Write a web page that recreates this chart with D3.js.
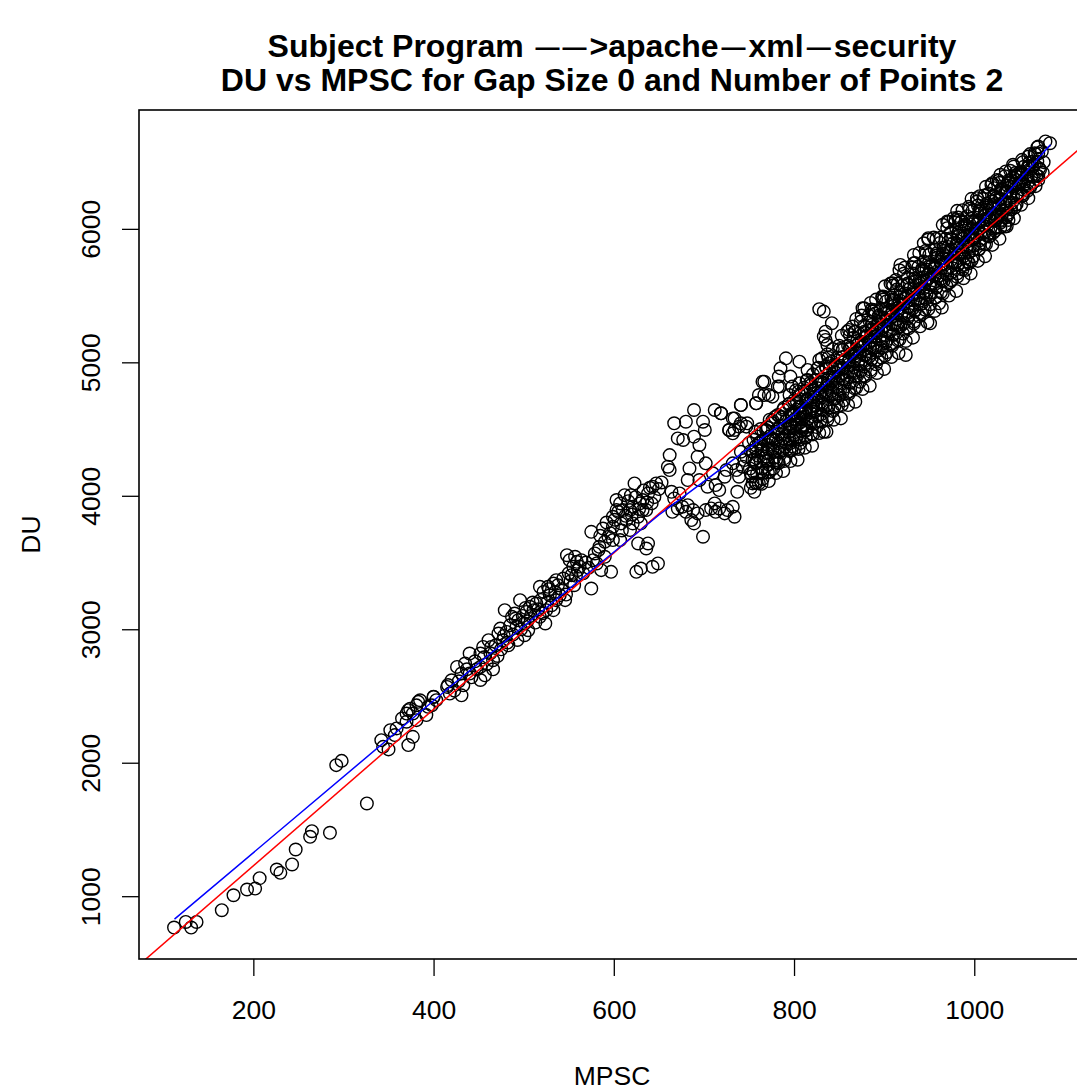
<!DOCTYPE html>
<html>
<head>
<meta charset="utf-8">
<script src="https://cdn.jsdelivr.net/npm/d3@7"></script>
<style>
  body { margin: 0; background: #ffffff; }
  text { font-family: "Liberation Sans", Arial, Helvetica, sans-serif; fill: #000; }
</style>
</head>
<body>
<svg id="chart" width="1077" height="1090"></svg>
<script>
// ---- data: [MPSC, DU] observations ----
const lowTail = [
  [112,765],[125,807],[131,765],[137,807],[165,895],[178,1007],[193,1050],[202,1057],
  [207,1135],[226,1200],[230,1175],[243,1238],[247,1350],[263,1445],[265,1487],[285,1475],
  [326,1695],[292,1982],[298,2014]
];
const lowCluster = [
  [342,2169],[344,2119],[350,2100],[352,2244],[359,2257],[357,2207],[365,2332],[372,2394],
  [377,2194],[372,2132],[383,2456],[377,2369],[381,2319],[370,2307],[392,2357],[394,2419],
  [400,2494],[403,2469],[416,2582],[370,2368],[381,2430],[374,2405],[385,2468],[398,2430]
];
const midBand = [
  [400,2493],[415,2568],[420,2618],[418,2518],[431,2505],[426,2718],[435,2743],[440,2818],
  [431,2668],[440,2668],[452,2718],[457,2655],[455,2868],[461,2918],[464,2868],[452,2818],
  [466,2768],[472,2968],[474,3005],[477,2918],[481,2980],[483,2880],[479,3143],[487,3093],
  [490,3118],[494,3068],[496,3218],[492,3018],[501,3043],[503,3130],[507,3168],[511,3143],
  [514,3193],[501,2955],[505,2993],[518,3093],[524,3043],[525,3143],[533,3143],[536,3218],
  [518,3318],[522,3280],[527,3318],[533,3343],[536,3368],[529,3255],[540,3255],[546,3218],
  [548,3555],[551,3518],[555,3468],[557,3543],[559,3505],[560,3443],[564,3518],[553,3405],
  [575,3305],[577,3518],[579,3568],[583,3593],[581,3493],[584,3618],[590,3543],[586,3443],
  [597,3430],[590,3655],[594,3693],[575,3730],[588,3755],[599,3768],[599,3843],[603,3893],
  [607,3943],[612,4005],[619,4005],[623,4093],[632,3968],[638,4018],[643,4068],[647,4093],
  [627,3843],[632,3893],[621,3918],[614,3818],[608,3793],[621,3793],[630,3793],[618,3743],
  [599,3668],[607,3668],[627,3643],[636,3605],[638,3643],[625,3430],[630,3455],[643,3468],
  [649,3493],[603,3968],[610,3893],[618,3893],[636,3893],[642,3943],[629,3943]
];
const midFill = [
  [423,2540],[428,2610],[433,2580],[437,2700],[442,2640],[446,2760],[448,2700],[452,2620],
  [456,2790],[459,2740],[463,2820],[466,2700],[469,2880],[471,2800],[475,2850],[478,2950],
  [482,2900],[485,3030],[488,2960],[491,3080],[493,2920],[497,3000],[499,3100],[502,3160],
  [504,3060],[508,3100],[510,3200],[513,3050],[516,3150],[519,3220],[521,3120],[526,3200],
  [528,3300],[531,3180],[535,3280],[538,3330],[542,3300],[544,3380],[547,3260],[550,3420],
  [552,3360],[556,3330],[558,3400],[562,3470],[566,3420],[569,3500],[572,3460],
  [585,3700],[592,3800],[596,3720],[601,3820],[605,3880],[609,3740],[613,3850],[616,3960],
  [620,3860],[624,3990],[628,3900],[633,4040],[637,3950],[640,4060],[645,3990],[650,4050],
  [653,4100]
];
const upperSpread = [
  [664,4030],[667,3980],[673,4018],[671,3905],[665,3880],[676,3918],[682,3930],[680,3880],
  [688,3893],[686,3818],[689,3793],[699,3693],[693,3868],[702,3893],[708,3905],[712,3943],
  [713,3880],[717,3905],[723,3868],[726,3893],[732,3918],[734,3843],[662,4305],[660,4218],
  [662,4193],[667,4543],[671,4430],[677,4418],[680,4555],[689,4643],[689,4443],[695,4380],
  [699,4555],[701,4493],[693,4293],[702,4243],[712,4643],[719,4618],[732,4580],[728,4493],
  [734,4493],[741,4680],[741,4543],[747,4518],[758,4693],[761,4755],[767,4855],[772,4755],
  [784,4818],[795,4755],[798,4818],[806,4843],[684,4205],[682,4118],[695,4118],[704,4068],
  [710,4168],[713,4080],[717,4043],[725,4193],[723,4143],[732,4243],[736,4193],[739,4143],
  [743,4218],[747,4293],[752,4168],[754,4093],[761,4093],[737,4030],[745,4268],[741,4330],
  [754,4330],[758,4243],[765,4205],[769,4293],[776,4343],[784,4368],[791,4393],[798,4418],
  [806,4443],[813,4493],[780,4268],[772,4418],[787,4468],[795,4543],[802,4568],[809,4618],
  [761,4393],[769,4493],[776,4543],[784,4593]
];
const outliers = [
  [828,5398],[833,5380],[842,5293],[835,5230],[835,5168],[833,5193],[837,5130],[791,5030],
  [806,5005],[785,4955],[783,4893],[796,4893],[815,4943],[815,4868],[765,4855],[767,4755],
  [776,4743],[758,4693],[741,4680],[782,4818],[719,4618],[734,4580],[748,4543],[728,4493],
  [739,4518],[732,4468],[828,5018],[831,5030],[839,4993],[854,5093],[861,5243],[868,5230],
  [876,5405],[887,5380],[898,5493],[909,5593],[865,5268],[879,5193],[890,5193],[894,5293],
  [901,5368],[909,5443],[833,4480],
  [918,5730],[913,5617],[900,5492],[878,5405],[889,5392],[924,5055],[951,5292],[961,5442],
  [979,6067],[1034,6030],[1016,5942],[1038,6067],[933,5742],[944,5892],[949,5930],[970,6055],
  [977,6080],[994,5742],[990,5692],
  [1079,6655],[1084,6642],[1071,6617],[1067,6567],[1060,6542],[1053,6517],[1044,6467],
  [1073,6442],[1071,6367],[1025,6367],[1020,6342],[1034,6017],[1029,6067],[1003,6205],[983,6067]
];
const denseBand = [
  [752,4060],[753,4145],[751,4205],[754,4270],[752,4335],[750,4395],
  [758,4095],[759,4165],[757,4245],[760,4300],[758,4375],[759,4445],
  [765,4125],[764,4205],[766,4280],[765,4350],[763,4405],[766,4485],
  [771,4175],[772,4235],[770,4320],[771,4380],[773,4445],[770,4515],
  [777,4205],[778,4285],[776,4355],[777,4425],[779,4480],[776,4565],
  [783,4245],[784,4325],[782,4395],[783,4465],[785,4525],[782,4605],
  [789,4280],[790,4365],[788,4425],[789,4505],[791,4560],[788,4645],
  [795,4335],[796,4395],[794,4475],[795,4535],[797,4615],[794,4685],
  [801,4355],[802,4435],[800,4515],[801,4575],[803,4645],[800,4715],[802,4790],
  [807,4395],[808,4485],[806,4545],[807,4615],[809,4675],[806,4755],
  [813,4435],[814,4515],[812,4595],[813,4655],[815,4725],[812,4785],[814,4865],
  [819,4465],[820,4565],[818,4625],[819,4705],[821,4765],[818,4845],
  [825,4515],[826,4595],[824,4675],[825,4735],[827,4805],[824,4865],[826,4955],
  [831,4555],[832,4645],[830,4705],[831,4785],[833,4845],[830,4925],
  [837,4595],[838,4675],[836,4755],[837,4815],[839,4885],[836,4955],[838,5035],
  [843,4635],[844,4725],[842,4785],[843,4865],[845,4925],[842,5005],
  [849,4675],[850,4755],[848,4845],[849,4895],[851,4975],[848,5035],[850,5125],
  [855,4715],[856,4815],[854,4875],[855,4955],[857,5015],[854,5095],
  [861,4765],[862,4845],[860,4925],[861,4985],[863,5065],[860,5125],[862,5205],
  [867,4805],[868,4895],[866,4965],[867,5045],[869,5095],[866,5185],
  [873,4855],[874,4935],[872,5015],[873,5075],[875,5155],[872,5215],[874,5305],
  [879,4895],[880,4995],[878,5055],[879,5135],[881,5195],[878,5275],
  [885,4945],[886,5025],[884,5105],[885,5165],[887,5245],[884,5305],[886,5395],
  [891,4985],[892,5085],[890,5145],[891,5225],[893,5285],[890,5365],
  [897,5035],[898,5115],[896,5195],[897,5255],[899,5335],[896,5395],[898,5485],
  [903,5075],[904,5175],[902,5235],[903,5315],[905,5375],[902,5455],
  [909,5125],[910,5205],[908,5285],[909,5345],[911,5425],[908,5485],[910,5575],
  [915,5165],[916,5265],[914,5325],[915,5405],[917,5465],[914,5545],
  [921,5215],[922,5295],[920,5375],[921,5435],[923,5515],[920,5575],[922,5665],
  [927,5255],[928,5355],[926,5415],[927,5495],[929,5555],[926,5635],
  [933,5305],[934,5385],[932,5465],[933,5525],[935,5605],[932,5665],[934,5745],
  [939,5345],[940,5435],[938,5505],[939,5575],[941,5635],[938,5715],
  [945,5395],[946,5475],[944,5555],[945,5615],[947,5695],[944,5755],[946,5835],
  [951,5435],[952,5525],[950,5585],[951,5665],[953,5725],[950,5805],
  [957,5485],[958,5565],[956,5645],[957,5705],[959,5785],[956,5845],[958,5925],
  [963,5525],[964,5615],[962,5675],[963,5755],[965,5815],[962,5895],
  [969,5575],[970,5655],[968,5735],[969,5795],[971,5865],[968,5925],[970,6005],
  [975,5615],[976,5705],[974,5765],[975,5845],[977,5895],[974,5975],
  [981,5665],[982,5735],[980,5815],[981,5875],[983,5945],[980,6005],[982,6085],
  [987,5695],[988,5795],[986,5845],[987,5925],[989,5985],[986,6055],
  [993,5755],[994,5825],[992,5905],[993,5955],[995,6035],[992,6095],[994,6165],
  [999,5795],[1000,5875],[998,5935],[999,6005],[1001,6055],[998,6135],
  [1005,5845],[1006,5915],[1004,5995],[1005,6045],[1007,6115],[1004,6175],[1006,6245],
  [1011,5885],[1012,5975],[1010,6025],[1011,6095],[1013,6145],[1010,6225],
  [1017,5945],[1018,6005],[1016,6085],[1017,6135],[1019,6205],[1016,6265],
  [1023,5985],[1024,6065],[1022,6115],[1023,6185],[1025,6235],[1022,6305],
  [1029,6045],[1030,6105],[1028,6175],[1029,6225],[1031,6295],[1028,6345],
  [1035,6085],[1036,6155],[1034,6205],[1035,6275],[1037,6325],[1034,6395],
  [1041,6145],[1042,6195],[1040,6265],[1041,6315],[1043,6385],[1040,6435],
  [1047,6185],[1048,6255],[1046,6305],[1047,6365],[1049,6415],
  [1053,6245],[1054,6295],[1052,6355],[1053,6405],[1055,6465],
  [1059,6285],[1060,6355],[1058,6395],[1059,6455],[1061,6495],
  [1065,6345],[1066,6395],[1064,6455],[1065,6505],
  [1071,6395],[1072,6455],[1070,6505],[1071,6565]
];
const denseFill = [
  [756,4030],[757,4100],[755,4180],[756,4270],[758,4350],[755,4420],[757,4480],
  [764,4090],[765,4170],[763,4260],[764,4340],[766,4420],[763,4500],
  [772,4110],[773,4180],[771,4260],[772,4350],[774,4430],[771,4510],[773,4570],
  [780,4170],[781,4250],[779,4330],[780,4420],[782,4500],[779,4590],
  [788,4185],[789,4260],[787,4340],[788,4430],[790,4510],[787,4590],[789,4660],
  [796,4260],[797,4340],[795,4420],[796,4520],[798,4600],[795,4690],
  [804,4270],[805,4350],[803,4440],[804,4540],[806,4620],[803,4710],[805,4780],
  [812,4360],[813,4440],[811,4530],[812,4620],[814,4710],[811,4810],
  [820,4375],[821,4460],[819,4550],[820,4650],[822,4740],[819,4830],[821,4910],
  [828,4470],[829,4560],[827,4660],[828,4750],[830,4850],[827,4960],
  [836,4480],[837,4570],[835,4670],[836,4780],[838,4870],[835,4970],[837,5060],
  [844,4570],[845,4670],[843,4770],[844,4880],[846,4980],[843,5100],
  [852,4580],[853,4680],[851,4790],[852,4900],[854,5000],[851,5100],[853,5200],
  [860,4680],[861,4780],[859,4890],[860,5000],[862,5110],[859,5230],
  [868,4705],[869,4810],[867,4920],[868,5030],[870,5130],[867,5230],[869,5325],
  [876,4800],[877,4900],[875,5010],[876,5120],[878,5230],[875,5350],
  [884,4825],[885,4930],[883,5040],[884,5150],[886,5250],[883,5350],[885,5445],
  [892,4920],[893,5020],[891,5130],[892,5240],[894,5350],[891,5470],
  [900,4950],[901,5050],[899,5160],[900,5270],[902,5370],[899,5470],[901,5570],
  [908,5040],[909,5140],[907,5250],[908,5360],[910,5470],[907,5590],
  [916,5070],[917,5170],[915,5280],[916,5390],[918,5490],[915,5590],[917,5690],
  [924,5160],[925,5260],[923,5370],[924,5480],[926,5590],[923,5710],
  [932,5185],[933,5290],[931,5400],[932,5510],[934,5610],[931,5710],[933,5805],
  [940,5270],[941,5370],[939,5480],[940,5590],[942,5700],[939,5820],
  [948,5300],[949,5400],[947,5510],[948,5620],[950,5720],[947,5820],[949,5920],
  [956,5385],[957,5485],[955,5595],[956,5705],[958,5815],[955,5935],
  [964,5410],[965,5515],[963,5625],[964,5735],[966,5835],[963,5935],[965,6030],
  [972,5500],[973,5600],[971,5710],[972,5820],[974,5930],[971,6050],
  [980,5535],[981,5640],[979,5745],[980,5850],[982,5950],[979,6050],[981,6135],
  [988,5630],[989,5730],[987,5830],[988,5930],[990,6030],[987,6140],
  [996,5665],[997,5765],[995,5865],[996,5960],[998,6055],[995,6150],[997,6225],
  [1004,5760],[1005,5850],[1003,5950],[1004,6040],[1006,6130],[1003,6230],
  [1012,5795],[1013,5885],[1011,5980],[1012,6070],[1014,6160],[1011,6250],[1013,6315],
  [1020,5880],[1021,5970],[1019,6060],[1020,6150],[1022,6240],[1019,6330],
  [1028,5925],[1029,6010],[1027,6100],[1028,6185],[1030,6270],[1027,6360],[1029,6405],
  [1036,6020],[1037,6100],[1035,6190],[1036,6270],[1038,6350],[1035,6430],
  [1044,6080],[1045,6160],[1043,6240],[1044,6320],[1046,6400],[1043,6480],
  [1052,6180],[1053,6260],[1051,6340],[1052,6420],[1054,6500],
  [1060,6230],[1061,6310],[1059,6390],[1060,6470],[1062,6560],
  [1068,6320],[1069,6400],[1067,6480],[1068,6560],[1070,6610],
  [1076,6420],[1077,6500],[1075,6580]
];
const denseCore = [
  [798,4370],[799,4450],[797,4530],[798,4610],
  [806,4420],[807,4510],[805,4590],[806,4670],
  [814,4490],[815,4570],[813,4640],[814,4720],
  [822,4540],[823,4630],[821,4700],[822,4790],
  [830,4610],[831,4690],[829,4770],[830,4850],
  [838,4660],[839,4750],[837,4830],[838,4910],
  [846,4730],[847,4810],[845,4890],[846,4970],
  [854,4780],[855,4870],[853,4950],[854,5040],
  [862,4850],[863,4930],[861,5010],[862,5100],
  [870,4900],[871,4990],[869,5070],[870,5160],
  [878,4970],[879,5050],[877,5130],[878,5220],
  [886,5020],[887,5110],[885,5190],[886,5280],
  [894,5090],[895,5170],[893,5250],[894,5340],
  [902,5150],[903,5230],[901,5310],[902,5400],
  [910,5210],[911,5290],[909,5380],[910,5460],
  [918,5270],[919,5350],[917,5440],[918,5520],
  [926,5330],[927,5410],[925,5500],[926,5580],
  [934,5390],[935,5470],[933,5550],[934,5630],
  [942,5440],[943,5520],[941,5610],[942,5690],
  [950,5500],[951,5580],[949,5660],[950,5750],
  [958,5560],[959,5640],[957,5720],[958,5800],
  [966,5610],[967,5690],[965,5780],[966,5860],
  [974,5670],[975,5750],[973,5830],[974,5920],
  [982,5730],[983,5810],[981,5890],[982,5970],
  [990,5780],[991,5860],[989,5950],[990,6030],
  [998,5840],[999,5920],[997,6000],[998,6080],
  [1006,5890],[1007,5970],[1005,6060],[1006,6140],
  [1014,5950],[1015,6030],[1013,6110],[1014,6190],
  [1022,6000],[1023,6080],[1021,6170],[1022,6250],
  [1030,6060],[1031,6140],[1029,6220],[1030,6300],
  [1038,6120],[1039,6200],[1037,6280],[1038,6360],
  [1046,6180],[1047,6260],[1045,6340],[1046,6420],
  [1054,6250],[1055,6330],[1053,6410],
  [1062,6310],[1063,6390],[1061,6470]
];

// straight-line fit (red): DU = intercept + slope * MPSC
const fitIntercept = 56;
const fitSlope = 5.86;

// smoothed trend (blue)
const smoothX = [112.5, 418, 650, 800, 916, 1030, 1084.5];
const smoothY = [828, 2567, 3856, 4610, 5370, 6217, 6630];

const xTicks = [200, 400, 600, 800, 1000];
const yTicks = [1000, 2000, 3000, 4000, 5000, 6000];
const titleLines = [
  "Subject Program \u2014\u2014>apache\u2014xml\u2014security",
  "DU vs MPSC for Gap Size 0 and Number of Points 2"
];
const xLabel = "MPSC";
const yLabel = "DU";

// ---- layout ----
const plot = { left: 139, top: 110, right: 1085, bottom: 959 };
const baseFont = 26.5;

const points = [].concat(lowTail, lowCluster, midBand, midFill, upperSpread,
                         outliers, denseBand, denseFill, denseCore);

// R-style 4% padding on both axes
function padded(ext) {
  const r = ext[1] - ext[0];
  return [ext[0] - 0.04 * r, ext[1] + 0.04 * r];
}
const x = d3.scaleLinear()
  .domain(padded(d3.extent(points, d => d[0])))
  .range([plot.left, plot.right]);
const y = d3.scaleLinear()
  .domain(padded(d3.extent(points, d => d[1])))
  .range([plot.bottom, plot.top]);

const svg = d3.select("#chart");

svg.append("defs").append("clipPath").attr("id", "plotClip")
  .append("rect")
  .attr("x", plot.left).attr("y", plot.top)
  .attr("width", plot.right - plot.left).attr("height", plot.bottom - plot.top);

const body = svg.append("g").attr("clip-path", "url(#plotClip)");

// scatter of open circles
body.append("g").selectAll("circle")
  .data(points)
  .join("circle")
  .attr("cx", d => x(d[0]))
  .attr("cy", d => y(d[1]))
  .attr("r", 6.3)
  .attr("fill", "none")
  .attr("stroke", "#000")
  .attr("stroke-width", 1.4);

// fitted straight line across the full plotting region
const xd = x.domain();
body.append("line")
  .attr("x1", x(xd[0])).attr("y1", y(fitIntercept + fitSlope * xd[0]))
  .attr("x2", x(xd[1])).attr("y2", y(fitIntercept + fitSlope * xd[1]))
  .attr("stroke", "#ff0000").attr("stroke-width", 1.5);

// smoothed trend
body.append("path")
  .datum(d3.zip(smoothX, smoothY))
  .attr("fill", "none")
  .attr("stroke", "#0000ff")
  .attr("stroke-width", 1.5)
  .attr("d", d3.line().x(d => x(d[0])).y(d => y(d[1])));

// plot box
svg.append("rect")
  .attr("x", plot.left).attr("y", plot.top)
  .attr("width", plot.right - plot.left).attr("height", plot.bottom - plot.top)
  .attr("fill", "none").attr("stroke", "#000").attr("stroke-width", 1.6);

// axes
const xAxis = d3.axisBottom(x).tickValues(xTicks).tickSize(17).tickFormat(d3.format("d"));
const gx = svg.append("g").attr("transform", `translate(0,${plot.bottom})`).call(xAxis);
gx.select(".domain").remove();
gx.selectAll(".tick line").attr("stroke", "#000").attr("stroke-width", 1.3);
gx.selectAll(".tick text")
  .attr("font-size", baseFont)
  .attr("font-family", "Liberation Sans, Arial, sans-serif")
  .attr("dy", null).attr("y", 60);

const yAxis = d3.axisLeft(y).tickValues(yTicks).tickSize(17).tickFormat(d3.format("d"));
const gy = svg.append("g").attr("transform", `translate(${plot.left},0)`).call(yAxis);
gy.select(".domain").remove();
gy.selectAll(".tick line").attr("stroke", "#000").attr("stroke-width", 1.3);
gy.selectAll(".tick text")
  .attr("font-size", baseFont)
  .attr("font-family", "Liberation Sans, Arial, sans-serif")
  .attr("x", null).attr("dy", null)
  .attr("text-anchor", "middle")
  .attr("transform", "translate(-39,0) rotate(-90)");

// axis titles
const cx = (plot.left + plot.right) / 2;
const cy = (plot.top + plot.bottom) / 2;
svg.append("text")
  .attr("x", cx).attr("y", 1085)
  .attr("text-anchor", "middle")
  .attr("font-size", baseFont)
  .text(xLabel);
svg.append("text")
  .attr("transform", `translate(40,${cy}) rotate(-90)`)
  .attr("text-anchor", "middle")
  .attr("font-size", baseFont)
  .text(yLabel);

// main title, two bold lines; runs of long dashes are set a touch smaller with small gaps
const titleG = svg.append("g")
  .attr("text-anchor", "middle")
  .attr("font-weight", "bold")
  .attr("font-size", 32);
titleLines.forEach((line, i) => {
  const t = titleG.append("text").attr("x", cx).attr("y", 57 + i * 34);
  const parts = line.split(/(\u2014+)/).filter(p => p.length > 0);
  if (parts.length === 1) { t.text(line); return; }
  let afterDash = false;
  parts.forEach(part => {
    if (part[0] === "\u2014") {
      t.append("tspan")
        .attr("font-size", 24).attr("letter-spacing", 3)
        .attr("dx", 3).attr("dy", -2)
        .text(part);
      afterDash = true;
    } else {
      const s = t.append("tspan").text(part);
      if (afterDash) s.attr("dy", 2);
      afterDash = false;
    }
  });
});
</script>
</body>
</html>
